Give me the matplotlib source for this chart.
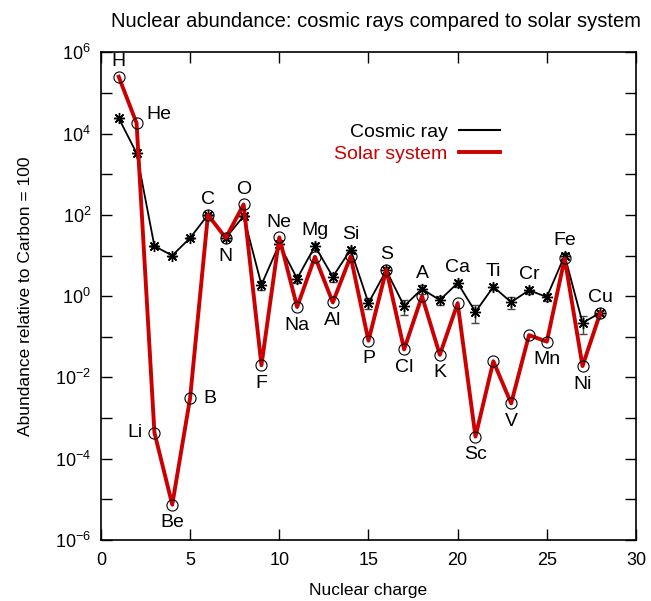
import matplotlib
matplotlib.use("Agg")
import matplotlib.pyplot as plt
import numpy as np
from matplotlib.ticker import FixedLocator, NullFormatter
from matplotlib.lines import Line2D

plt.rcParams['font.family'] = ['Liberation Sans', 'DejaVu Sans']

elements = ["H", "He", "Li", "Be", "B", "C", "N", "O", "F", "Ne", "Na", "Mg", "Al", "Si",
            "P", "S", "Cl", "A", "K", "Ca", "Sc", "Ti", "V", "Cr", "Mn", "Fe", "Ni", "Cu"]
charge = list(range(1, 29))
cosmic = [24000, 3300, 17, 10, 27, 100, 27, 93, 1.9, 19, 2.7, 17, 3.0, 14,
          0.68, 4.3, 0.57, 1.5, 0.8, 2.1, 0.41, 1.7, 0.71, 1.4, 0.95, 10, 0.22, 0.39]
cosmic_err = [0, 0, 1, 1, 2, 5, 3, 5, 0.5, 3, 0.6, 3, 0.8, 2.5,
              0.2, 0.8, 0.22, 0.35, 0.2, 0.4, 0.19, 0.3, 0.22, 0.3, 0.2, 1.5, 0.1, 0.05]
solar = [2.5e5, 1.8e4, 4.4e-4, 7.4e-6, 3.1e-3, 100, 27, 180, 0.02, 28, 0.54, 9.3, 0.7, 9.5,
         0.08, 4.5, 0.049, 1.0, 0.036, 0.67, 3.5e-4, 0.025, 2.3e-3, 0.11, 0.076, 8.5, 0.019, 0.39]
# label placement: 'a' above, 'b' below, 'l' left, 'r' right, 'ar' above-right
label_pos = ["a", "ar", "l", "b", "r", "a", "b", "a", "b", "a", "b", "a", "b", "a",
             "b", "a", "b", "a", "b", "a", "b", "a", "b", "a", "b", "a", "b", "a"]

fig = plt.figure(figsize=(6.51, 6.01), dpi=100)
ax = fig.add_axes([0.155, 0.1015, 0.822, 0.8115])

ax.errorbar(charge, cosmic, yerr=cosmic_err, color='black', lw=1.3,
            ecolor='#444444', elinewidth=1.0, capsize=3, capthick=1.0,
            marker=(8, 2, 0), markersize=8, markeredgewidth=1.0, zorder=2,
            label='Cosmic ray')
ax.plot(charge, solar, color='#cc0000', lw=2.8, zorder=3, label='Solar system')
ax.plot(charge, solar, linestyle='none', marker='o', markersize=8,
        markerfacecolor='none', markeredgecolor='black', markeredgewidth=0.8, zorder=4)

for z, el, c, s, p in zip(charge, elements, cosmic, solar, label_pos):
    if p == 'a':
        y = max(c, s); off = (0, 11)
    elif p == 'b':
        y = min(c, s); off = (0, -13)
    elif p == 'l':
        y = s; off = (-14, 0)
    elif p == 'r':
        y = s; off = (14, 0)
    else:
        y = s; off = (16, 6)
    ax.annotate(el, (z, y), xytext=off, textcoords='offset points',
                ha='center', va='center', fontsize=14)

ax.set_yscale('log')
ax.set_xlim(0, 30)
ax.set_ylim(1e-6, 1e6)
ax.set_xticks([0, 5, 10, 15, 20, 25, 30])
major = [10.0 ** k for k in range(-6, 7, 2)]
minor = [10.0 ** k for k in range(-5, 7, 2)]
ax.yaxis.set_major_locator(FixedLocator(major))
ax.yaxis.set_minor_locator(FixedLocator(minor))
ax.yaxis.set_minor_formatter(NullFormatter())
ax.set_yticklabels([r'$\mathregular{10^{%d}}$' % k for k in range(-6, 7, 2)])
ax.tick_params(which='both', direction='in', top=True, right=True, labelsize=13)
ax.tick_params(axis='x', pad=9)
ax.tick_params(axis='y', pad=7)
ax.tick_params(which='major', length=8, width=1)
ax.tick_params(which='minor', length=8, width=1)
for sp in ax.spines.values():
    sp.set_linewidth(1.2)

ax.set_xlabel('Nuclear charge', fontsize=12.5, labelpad=10)
ax.set_ylabel('Abundance relative to Carbon = 100', fontsize=12.5, labelpad=16)
ax.set_title('Nuclear abundance: cosmic rays compared to solar system', fontsize=14.5, pad=18,
             x=0.515)

handles = [Line2D([], [], color='black', lw=1.5), Line2D([], [], color='#cc0000', lw=2.8)]
leg = ax.legend(handles, ['Cosmic ray', 'Solar system'], loc='upper right',
                bbox_to_anchor=(0.746, 0.855), frameon=False, markerfirst=False,
                handlelength=2.1, handletextpad=0.6, fontsize=14, labelspacing=0.22,
                borderpad=0, borderaxespad=0,
                labelcolor=['black', '#cc0000'])

fig.savefig('out.png', dpi=100)
